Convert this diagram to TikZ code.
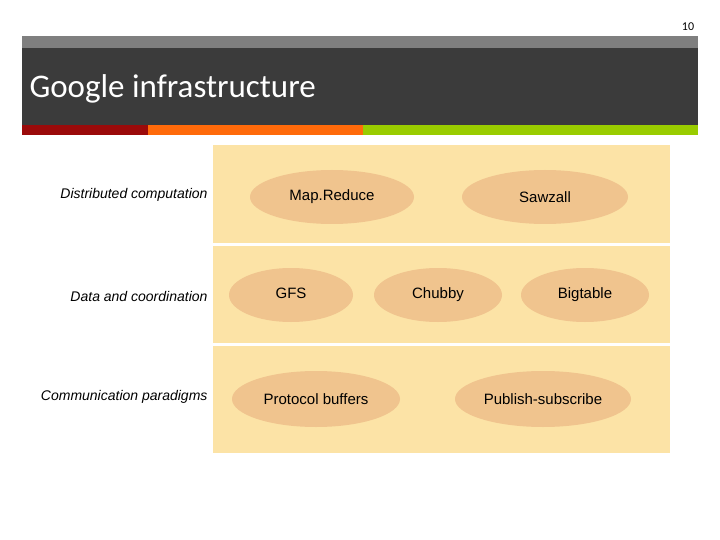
\documentclass[tikz,border=0pt]{standalone}
\usepackage{fontspec}
\setmainfont{Liberation Sans}
\newfontfamily\titlefont{Carlito}
\usepackage{tikz}
\usetikzlibrary{shapes.geometric}
\definecolor{bandfill}{HTML}{FCE3A6}
\definecolor{ovalfill}{HTML}{F0C48E}
\definecolor{darkbar}{HTML}{3B3B3B}
\definecolor{greybar}{HTML}{7F7F7F}
\definecolor{redbar}{HTML}{9B0A0A}
\definecolor{orangebar}{HTML}{FF6A0A}
\definecolor{greenbar}{HTML}{99CC00}
\tikzset{
  oval/.style={ellipse,fill=ovalfill,inner sep=0pt,font=\fontsize{15}{17}\selectfont},
  rowlabel/.style={anchor=east,font=\fontsize{14}{16}\selectfont\itshape}
}
\begin{document}
\begin{tikzpicture}[x=1pt,y=-1pt]
	\useasboundingbox[fill=white] (0,0) rectangle (720,540);
	
	% slide header
	\node[font=\fontsize{12}{14}\selectfont\titlefont] (pagenum) at (688,27) {10};
	\fill[greybar] (22,36) rectangle (698,48);
	\fill[darkbar] (22,48) rectangle (698,125);
	\node[anchor=west,text=white,font=\fontsize{33}{38}\selectfont\titlefont] (title) at (26,89) {Google infrastructure};
	\fill[redbar] (22,125) rectangle (148,135);
	\fill[orangebar] (148,125) rectangle (363,135);
	\fill[greenbar] (363,125) rectangle (698,135);
	
	% bands
	\fill[bandfill] (213,145) rectangle (670,243);
	\fill[bandfill] (213,246) rectangle (670,343);
	\fill[bandfill] (213,346) rectangle (670,453);
	
	% row labels
	\node[rowlabel] (lcomp) at (211,195) {Distributed computation};
	\node[rowlabel] (ldata) at (211,296) {Data and coordination};
	\node[rowlabel] (lcomm) at (211,397) {Communication paradigms};
	
	% services
	\node[oval,minimum width=164pt,minimum height=54pt] (mapreduce) at (332,197) {Map.Reduce};
	\node[oval,minimum width=166pt,minimum height=54pt] (sawzall) at (545,197) {Sawzall};
	\node[oval,minimum width=124pt,minimum height=54pt] (gfs) at (291,295) {\raisebox{3pt}{GFS}};
	\node[oval,minimum width=128pt,minimum height=54pt] (chubby) at (438,295) {Chubby};
	\node[oval,minimum width=128pt,minimum height=54pt] (bigtable) at (585,295) {Bigtable};
	\node[oval,minimum width=168pt,minimum height=56pt] (protobuf) at (316,399) {Protocol buffers};
	\node[oval,minimum width=176pt,minimum height=56pt] (pubsub) at (543,399) {Publish-subscribe};
\end{tikzpicture}
\end{document}
